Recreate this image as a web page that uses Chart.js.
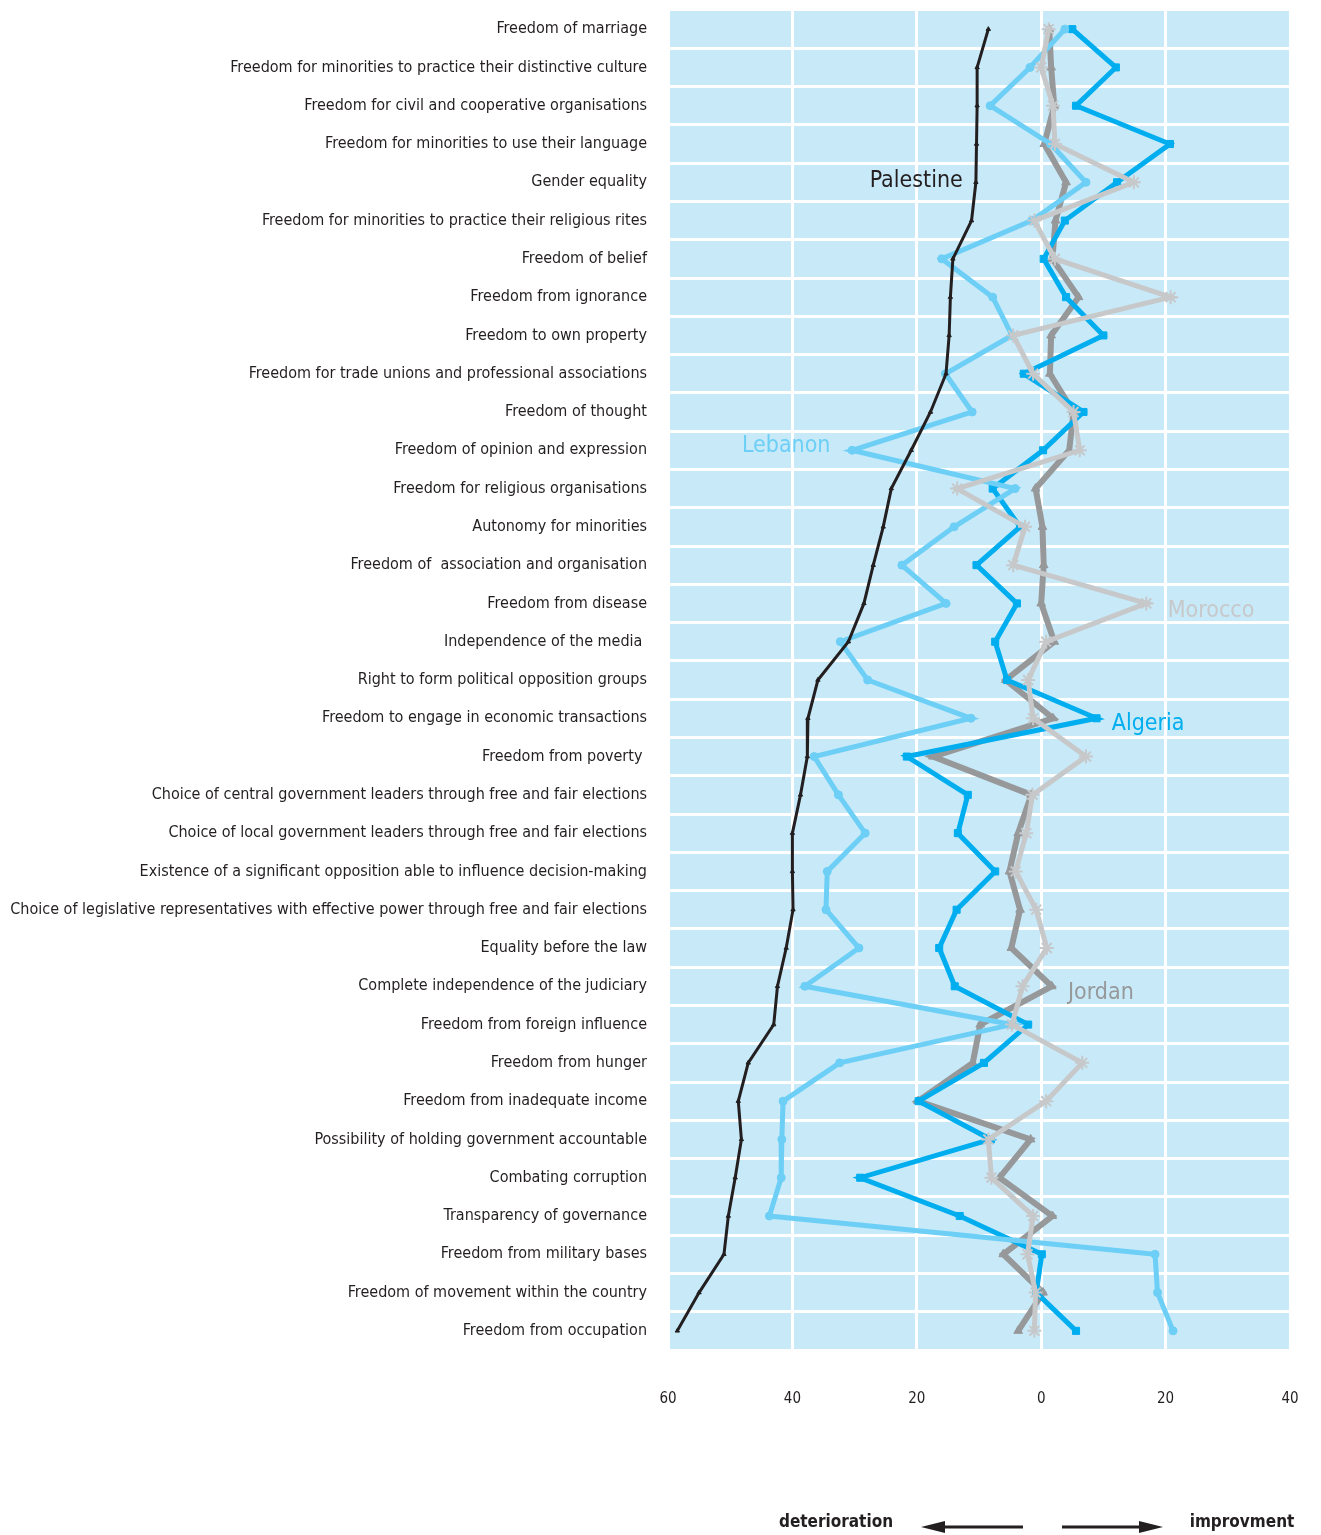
<!DOCTYPE html>
<html>
<head>
<meta charset="utf-8">
<script src="https://cdn.jsdelivr.net/npm/chart.js@4.4.1/dist/chart.umd.min.js"></script>
<style>
  html, body { margin: 0; padding: 0; background: #fff; }
  #wrap { width: 1321px; height: 1535px; position: relative; }
</style>
</head>
<body>
<div id="wrap"><canvas id="chart"></canvas></div>
<script>
// --- Data ---
const categories = [
  'Freedom of marriage',
  'Freedom for minorities to practice their distinctive culture',
  'Freedom for civil and cooperative organisations',
  'Freedom for minorities to use their language',
  'Gender equality',
  'Freedom for minorities to practice their religious rites',
  'Freedom of belief',
  'Freedom from ignorance',
  'Freedom to own property',
  'Freedom for trade unions and professional associations',
  'Freedom of thought',
  'Freedom of opinion and expression',
  'Freedom for religious organisations',
  'Autonomy for minorities',
  'Freedom of  association and organisation',
  'Freedom from disease',
  'Independence of the media ',
  'Right to form political opposition groups',
  'Freedom to engage in economic transactions',
  'Freedom from poverty ',
  'Choice of central government leaders through free and fair elections',
  'Choice of local government leaders through free and fair elections',
  'Existence of a significant opposition able to influence decision-making',
  'Choice of legislative representatives with effective power through free and fair elections',
  'Equality before the law',
  'Complete independence of the judiciary',
  'Freedom from foreign influence',
  'Freedom from hunger',
  'Freedom from inadequate income',
  'Possibility of holding government accountable',
  'Combating corruption',
  'Transparency of governance',
  'Freedom from military bases',
  'Freedom of movement within the country',
  'Freedom from occupation'
];

const palestine = [-8.5, -10.3, -10.3, -10.4, -10.5, -11.2, -14.2, -14.6, -14.8, -15.3, -17.8, -20.9, -24.1, -25.4, -27, -28.5, -31, -35.9, -37.5, -37.6, -38.7, -40, -40, -39.9, -41, -42.4, -43, -47.1, -48.7, -48.2, -49.2, -50.3, -51, -55, -58.5];
const lebanon = [3.8, -1.8, -8.2, 1.5, 7.2, -1.5, -16, -7.8, -4.7, -15.4, -11.1, -30.4, -4.2, -14, -22.4, -15.3, -32.3, -27.9, -11.3, -36.5, -32.6, -28.3, -34.4, -34.6, -29.3, -38, -4.7, -32.4, -41.5, -41.7, -41.8, -43.7, 18.3, 18.7, 21.2];
const algeria = [5.0, 12.0, 5.6, 20.7, 12.2, 3.8, 0.4, 4.0, 10.0, -2.8, 6.8, 0.3, -7.8, -3.4, -10.4, -3.9, -7.4, -5.5, 8.9, -21.6, -11.8, -13.4, -7.4, -13.6, -16.4, -13.9, -2.1, -9.2, -19.7, -8.1, -29.1, -13.1, 0.1, -0.8, 5.6];
const jordan = [1.3, 1.6, 2.1, 0.5, 4.0, 2.3, 1.8, 6.0, 1.6, 1.4, 5.2, 4.5, -0.9, 0.2, 0.4, 0.0, 2.1, -5.7, 1.9, -17.4, -1.6, -3.7, -5.1, -3.4, -4.8, 1.7, -9.8, -11, -19.8, -1.7, -6.7, 1.8, -6.1, 0.3, -3.7];
const morocco = [1.2, 0.0, 1.9, 2.2, 14.9, -1.1, 2.2, 20.8, -4.5, -1.3, 5.2, 6.2, -13.5, -2.6, -4.5, 16.9, 0.8, -2.1, -1.3, 7.2, -1.4, -2.4, -4.1, -0.8, 0.9, -3.0, -4.7, 6.6, 0.8, -8.5, -8.0, -1.3, -2.2, -0.9, -1.1];

const xTicks = [-60, -40, -20, 0, 20, 40];

const FAMILY = '"Liberation Sans Narrow", "DejaVu Sans Condensed", "Open Sans", sans-serif';

// fit the longest category label into the space left of the plot
function fitFontSize(target) {
  const c = document.createElement('canvas').getContext('2d');
  c.font = '100px ' + FAMILY;
  let w = 0;
  categories.forEach(s => { w = Math.max(w, c.measureText(s).width); });
  return Math.min(18, Math.floor(target / w * 100 * 10) / 10);
}
const labelSize = fitFontSize(637);

const plotBg = {
  id: 'plotBg',
  beforeDraw(chart) {
    const { ctx, chartArea: a } = chart;
    ctx.save();
    ctx.fillStyle = '#c7e9f8';
    ctx.fillRect(a.left, a.top, a.right - a.left, a.bottom - a.top);
    ctx.restore();
  }
};

const annotations = {
  id: 'annotations',
  afterDatasetsDraw(chart) {
    const { ctx } = chart;
    const xs = chart.scales.x, ys = chart.scales.y;
    // country names placed next to their lines: text, x value, row, nudge, colour
    const names = [
      ['Palestine', -20.1, 4, -1, '#231f20'],
      ['Lebanon', -41, 11, -4, '#6dcff6'],
      ['Morocco', 27.3, 15, 8, '#c7c8ca'],
      ['Algeria', 17.2, 18, 6, '#00aeef'],
      ['Jordan', 9.6, 25, 7, '#97989a']
    ];
    ctx.save();
    ctx.font = '23px ' + FAMILY;
    ctx.textAlign = 'center';
    ctx.textBaseline = 'middle';
    names.forEach(([t, v, row, dy, col]) => {
      ctx.fillStyle = col;
      ctx.fillText(t, xs.getPixelForValue(v), ys.getPixelForValue(row) + dy);
    });
    ctx.restore();
  },
  afterDraw(chart) {
    const { ctx } = chart;
    ctx.save();
    ctx.fillStyle = '#231f20';
    ctx.strokeStyle = '#231f20';
    ctx.font = 'bold 17px ' + FAMILY;
    ctx.textBaseline = 'middle';
    ctx.textAlign = 'center';
    const y = 1523;
    ctx.fillText('deterioration', 836, y);
    ctx.fillText('improvment', 1242, y);
    ctx.lineWidth = 3;
    // left arrow
    ctx.beginPath(); ctx.moveTo(1023, y + 4); ctx.lineTo(938, y + 4); ctx.stroke();
    ctx.beginPath(); ctx.moveTo(921, y + 4); ctx.lineTo(945, y - 2); ctx.lineTo(945, y + 10); ctx.closePath(); ctx.fill();
    // right arrow
    ctx.beginPath(); ctx.moveTo(1062, y + 4); ctx.lineTo(1146, y + 4); ctx.stroke();
    ctx.beginPath(); ctx.moveTo(1163, y + 4); ctx.lineTo(1139, y - 2); ctx.lineTo(1139, y + 10); ctx.closePath(); ctx.fill();
    ctx.restore();
  }
};

function series(label, data, color, width, style, radius) {
  return {
    label: label,
    data: data,
    borderColor: color,
    backgroundColor: color,
    borderWidth: width,
    pointStyle: style,
    pointRadius: radius,
    pointBorderColor: color,
    pointBackgroundColor: color,
    pointBorderWidth: style === 'star' ? 2 : 1,
    tension: 0
  };
}

new Chart(document.getElementById('chart'), {
  type: 'line',
  data: {
    labels: categories,
    datasets: [
      series('Palestine', palestine, '#231f20', 3, 'triangle', 2.5),
      series('Morocco', morocco, '#c7c8ca', 5, 'star', 7),
      series('Lebanon', lebanon, '#6dcff6', 5, 'circle', 4),
      series('Algeria', algeria, '#00aeef', 5, 'rect', 5),
      series('Jordan', jordan, '#97989a', 6, 'triangle', 5)
    ]
  },
  options: {
    indexAxis: 'y',
    responsive: true,
    maintainAspectRatio: false,
    animation: false,
    layout: { padding: { top: 10, right: 31, left: 0, bottom: 0 } },
    plugins: {
      legend: { display: false },
      tooltip: { enabled: false }
    },
    scales: {
      x: {
        type: 'linear',
        position: 'bottom',
        min: -60,
        max: 40,
        afterBuildTicks(scale) { scale.ticks = xTicks.map(v => ({ value: v })); },
        afterFit(scale) {
          scale.height = 185;
          scale.paddingLeft = 0;
          scale.paddingRight = 0;
        },
        border: { display: false },
        grid: { color: '#ffffff', lineWidth: 3, drawTicks: false },
        ticks: {
          padding: 40,
          color: '#231f20',
          font: { family: FAMILY, size: 15 },
          callback: v => String(Math.abs(v))
        }
      },
      y: {
        type: 'category',
        offset: true,
        afterFit(scale) {
          scale.width = 668;
          scale.paddingTop = 0;
          scale.paddingBottom = 0;
        },
        border: { display: false },
        grid: { color: '#ffffff', lineWidth: 3, offset: true, drawTicks: false },
        ticks: {
          autoSkip: false,
          padding: 21,
          color: '#231f20',
          font: { family: FAMILY, size: labelSize }
        }
      }
    }
  },
  plugins: [plotBg, annotations]
});
</script>
</body>
</html>
